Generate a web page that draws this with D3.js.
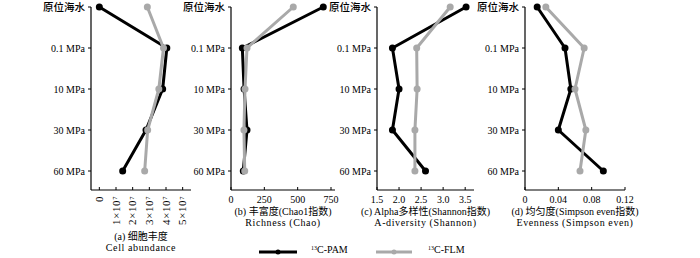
<!DOCTYPE html>
<html>
<head>
<meta charset="utf-8">
<script src="https://cdn.jsdelivr.net/npm/d3@7"></script>
<style>
  body { margin: 0; background: #fff; }
  text { font-family: "Liberation Serif", "Noto Sans CJK SC", serif; fill: #000; }
</style>
</head>
<body>
<div id="chart"></div>
<script>
var categories = ["原位海水", "0.1 MPa", "10 MPa", "30 MPa", "60 MPa"];

var cellPAM = [0, 4.05e7, 3.8e7, 2.8e7, 1.4e7];
var cellFLM = [2.88e7, 3.85e7, 3.57e7, 2.9e7, 2.72e7];
var chaoPAM = [692, 85, 98, 120, 92];
var chaoFLM = [467, 120, 105, 97, 103];
var shannonPAM = [3.52, 1.85, 2.0, 1.85, 2.6];
var shannonFLM = [3.16, 2.4, 2.41, 2.36, 2.36];
var simpsonPAM = [0.0146, 0.048, 0.055, 0.04, 0.094];
var simpsonFLM = [0.025, 0.071, 0.06, 0.073, 0.066];

var cellTicks = [0, 1e7, 2e7, 3e7, 4e7, 5e7];
var chaoTicks = [0, 250, 500, 750];
var shannonTicks = [1.5, 2.0, 2.5, 3.0, 3.5];
var simpsonTicks = [0, 0.04, 0.08, 0.12];

var seriesNames = ["PAM", "FLM"];
var colors = {PAM: "#000", FLM: "#a9a9a9"};

var svg = d3.select("#chart").append("svg")
  .attr("width", 700).attr("height", 258);

var yTop = 7, yStep = 41, xAxisY = 190;
var y = d3.scalePoint().domain(categories).range([yTop, yTop + 4 * yStep]);

var panels = [
  {id: "a", left: 91, right: 191, domain: [-0.5e7, 5.5e7], ticks: cellTicks,
   PAM: cellPAM, FLM: cellFLM, title: "(a) 细胞丰度", sub: "Cell abundance", rotate: true},
  {id: "b", left: 231, right: 335, domain: [0, 780], ticks: chaoTicks,
   PAM: chaoPAM, FLM: chaoFLM, title: "(b) 丰富度(Chao1指数)", sub: "Richness (Chao)",
   fmt: d3.format("d")},
  {id: "c", left: 377, right: 474, domain: [1.5, 3.7], ticks: shannonTicks,
   PAM: shannonPAM, FLM: shannonFLM, title: "(c) Alpha多样性(Shannon指数)", sub: "A-diversity (Shannon)",
   fmt: d3.format(".1f")},
  {id: "d", left: 525, right: 625, domain: [0, 0.12], ticks: simpsonTicks,
   PAM: simpsonPAM, FLM: simpsonFLM, title: "(d) 均匀度(Simpson even指数)", sub: "Evenness (Simpson even)",
   fmt: function(d) { return d === 0 ? "0" : d3.format(".2f")(d); }}
];

panels.forEach(function(p) {
  var g = svg.append("g").attr("id", "p_" + p.id);
  var x = d3.scaleLinear().domain(p.domain).range([p.left, p.right]);

  // y axis
  g.append("line")
    .attr("x1", p.left).attr("x2", p.left)
    .attr("y1", yTop).attr("y2", xAxisY)
    .attr("stroke", "#000").attr("stroke-width", 1.2);
  g.selectAll("line.yt").data(categories).enter().append("line")
    .attr("class", "yt")
    .attr("x1", p.left - 3).attr("x2", p.left)
    .attr("y1", function(d) { return y(d); })
    .attr("y2", function(d) { return y(d); })
    .attr("stroke", "#000");
  g.selectAll("text.yl").data(categories).enter().append("text")
    .attr("class", "yl")
    .attr("x", p.left - 6)
    .attr("y", function(d) { return y(d); })
    .attr("dy", "0.35em")
    .attr("text-anchor", "end")
    .style("font-size", function(d, i) { return i === 0 ? "10.5px" : "10px"; })
    .style("font-family", function(d, i) { return i === 0 ? "'Noto Sans CJK SC'" : null; })
    .style("font-weight", function(d, i) { return i === 0 ? "500" : null; })
    .text(function(d) { return d; });

  // x axis
  g.append("line")
    .attr("x1", p.left).attr("x2", p.right)
    .attr("y1", xAxisY).attr("y2", xAxisY)
    .attr("stroke", "#000").attr("stroke-width", 1.2);
  g.selectAll("line.xt").data(p.ticks).enter().append("line")
    .attr("class", "xt")
    .attr("x1", function(d) { return x(d); })
    .attr("x2", function(d) { return x(d); })
    .attr("y1", xAxisY - 3).attr("y2", xAxisY)
    .attr("stroke", "#000");

  var titleY = 215;
  if (p.rotate) {
    var tl = g.selectAll("text.xl").data(p.ticks).enter().append("text")
      .attr("class", "xl")
      .attr("transform", function(d) { return "translate(" + (x(d) + 3.8) + "," + (xAxisY + 6) + ") rotate(-90)"; })
      .attr("text-anchor", "end")
      .style("font-size", "11px")
      .style("letter-spacing", "0.6px");
    tl.each(function(d) {
      var t = d3.select(this);
      if (d === 0) { t.text("0"); return; }
      t.append("tspan").text((d / 1e7) + "×10");
      t.append("tspan").attr("dy", "-0.45em").style("font-size", "6.5px").text("7");
    });
    titleY = 240;
  } else {
    g.selectAll("text.xl").data(p.ticks).enter().append("text")
      .attr("class", "xl")
      .attr("x", function(d) { return x(d); })
      .attr("y", 203)
      .attr("text-anchor", "middle")
      .style("font-size", "10px")
      .text(p.fmt);
  }

  var cx = (p.left + p.right) / 2;
  g.append("text").attr("x", cx).attr("y", titleY)
    .attr("text-anchor", "middle").style("font-size", "10px").text(p.title);
  g.append("text").attr("x", cx).attr("y", titleY + 11)
    .attr("text-anchor", "middle").style("font-size", "10px")
    .style("letter-spacing", "0.6px").text(p.sub);

  // series
  seriesNames.forEach(function(s) {
    var vals = p[s];
    var line = d3.line()
      .x(function(d) { return x(d); })
      .y(function(d, i) { return y(categories[i]); });
    g.append("path").datum(vals)
      .attr("d", line)
      .attr("fill", "none")
      .attr("stroke", colors[s])
      .attr("stroke-width", 3)
      .attr("stroke-linejoin", "round");
    g.selectAll("circle." + s).data(vals).enter().append("circle")
      .attr("class", s)
      .attr("cx", function(d) { return x(d); })
      .attr("cy", function(d, i) { return y(categories[i]); })
      .attr("r", 3.5)
      .attr("fill", colors[s]);
  });
});

// legend
var legend = svg.append("g").attr("id", "legend");
var legendItems = [
  {key: "PAM", x1: 259, x2: 297, tx: 311, label: "C-PAM"},
  {key: "FLM", x1: 376, x2: 412, tx: 428, label: "C-FLM"}
];
var legY = 252;
legendItems.forEach(function(it) {
  legend.append("line")
    .attr("x1", it.x1).attr("x2", it.x2)
    .attr("y1", legY).attr("y2", legY)
    .attr("stroke", colors[it.key]).attr("stroke-width", 3);
  legend.append("circle")
    .attr("cx", (it.x1 + it.x2) / 2).attr("cy", legY).attr("r", 2.5)
    .attr("fill", colors[it.key]);
  var t = legend.append("text").attr("x", it.tx).attr("y", legY).attr("dy", "0.35em")
    .style("font-size", "10px");
  t.append("tspan").attr("dy", "-0.3em").style("font-size", "6px").text("13");
  t.append("tspan").attr("dy", "0.3em").text(it.label);
});
</script>
</body>
</html>
